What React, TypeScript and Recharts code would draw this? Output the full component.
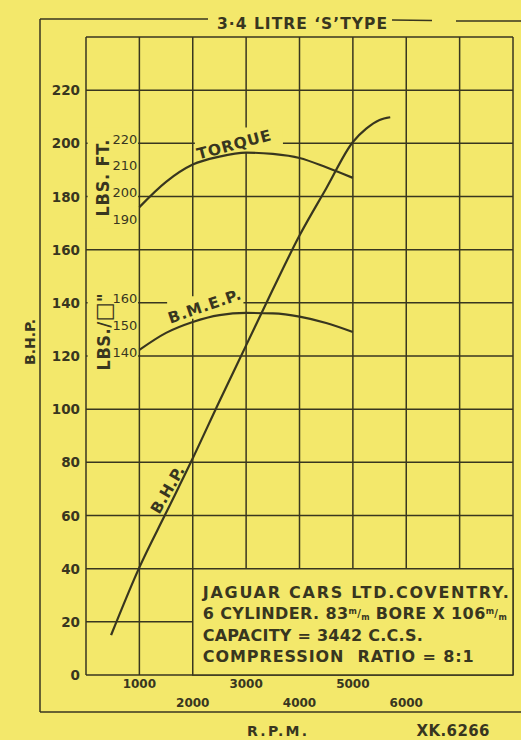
import React from 'react';
import {
  LineChart,
  Line,
  XAxis,
  YAxis,
  CartesianGrid,
  ReferenceArea,
  ReferenceDot,
} from 'recharts';

const PAPER = '#f3e86b';
const INK = '#38361f';
const FONT = '"DejaVu Sans", sans-serif';
const COND = '"DejaVu Sans Condensed", "DejaVu Sans", sans-serif';

// B.H.P. against r.p.m.
const bhpRpm = [470, 1000, 1500, 2000, 2500, 3000, 3500, 4000, 4500, 5000, 5250, 5500, 5700];
const bhpValues = [15, 40.5, 61, 81.5, 103, 124, 145, 165.3, 183, 200.5, 205.5, 208.8, 209.8];

// torque (lbs.ft.) and b.m.e.p. (lbs./sq.in.) share the same rpm points
const curveRpm = [1000, 1500, 2000, 2500, 3000, 3500, 4000, 4500, 5000];
const torqueValues = [196, 205.5, 212, 215, 216.5, 216, 214.5, 211, 207];
const bmepValues = [142.3, 148.7, 152.8, 155.4, 156.2, 156, 154.8, 152.4, 149];

const rpmTicks = [0, 1000, 2000, 3000, 4000, 5000, 6000, 7000, 8000];
const rpmLabels = [1000, 2000, 3000, 4000, 5000, 6000];
const bhpTicks = [0, 20, 40, 60, 80, 100, 120, 140, 160, 180, 200, 220, 240];
const bhpLabels = [0, 20, 40, 60, 80, 100, 120, 140, 160, 180, 200, 220];
const torqueTicks = [190, 200, 210, 220];
const bmepTicks = [140, 150, 160];

const pick = (xs: number[], ys: number[], x: number) => {
  const i = xs.indexOf(x);
  return i < 0 ? null : ys[i];
};

const rows = Array.from(new Set([...bhpRpm, ...curveRpm]))
  .sort((a, b) => a - b)
  .map((rpm) => ({
    rpm,
    bhp: pick(bhpRpm, bhpValues, rpm),
    torque: pick(curveRpm, torqueValues, rpm),
    bmep: pick(curveRpm, bmepValues, rpm),
  }));

const RpmTick = ({ x, y, payload }: any) => {
  const v = payload.value;
  if (!rpmLabels.includes(v)) return <g />;
  const low = (v / 1000) % 2 === 0;
  return (
    <text x={x} y={y + (low ? 24 : 5)} textAnchor="middle" fontFamily={FONT}
      fontWeight="bold" fontSize={12} fill={INK}>
      {v}
    </text>
  );
};

const BhpTick = ({ x, y, payload }: any) => {
  const v = payload.value;
  if (!bhpLabels.includes(v)) return <g />;
  return (
    <text x={x} y={y + 5} textAnchor="end" fontFamily={FONT}
      fontWeight="bold" fontSize={13.5} fill={INK}>
      {v}
    </text>
  );
};

// secondary scale numbers written just left of the 1000 rpm line
const scaleLabel = (v: number) => (p: any) => (
  <text x={p.cx - 2} y={p.cy + 0.5} textAnchor="end" fontFamily={FONT}
    fontSize={13} fill={INK}>
    {v}
  </text>
);

const curveName = (name: string, angle: number, len: number) => (p: any) => (
  <text x={p.cx} y={p.cy} textAnchor="middle" dominantBaseline="central"
    transform={`rotate(${angle} ${p.cx} ${p.cy})`} fontFamily={FONT}
    fontWeight="bold" fontSize={15.5} fill={INK} textLength={len}>
    {name}
  </text>
);

const mm = (
  <>
    <tspan fontSize={8} dy={-5}>m</tspan>
    <tspan fontSize={10} dy={3}>/</tspan>
    <tspan fontSize={8} dy={3}>m</tspan>
    <tspan dy={-1}> </tspan>
  </>
);

const SpecBlock = (p: any) => {
  const x = p.cx + 10;
  const common = { x, fontFamily: FONT, fontWeight: 'bold', fontSize: 16, fill: INK };
  return (
    <g>
      <text {...common} y={p.cy + 29} textLength={306}>JAGUAR CARS LTD.COVENTRY.</text>
      <text {...common} y={p.cy + 50} textLength={304}>
        6 CYLINDER. 83{mm}BORE X 106{mm}
      </text>
      <text {...common} y={p.cy + 72} textLength={220}>CAPACITY = 3442 C.C.S.</text>
      <text {...common} y={p.cy + 93} textLength={271}>{'COMPRESSION\u00a0\u00a0RATIO = 8:1'}</text>
    </g>
  );
};

export default function App() {
  return (
    <div style={{ position: 'absolute', left: 0, top: 0, width: 521, height: 740, background: PAPER }}>
      <LineChart width={521} height={740} data={rows}
        margin={{ top: 37, right: 8, bottom: 35, left: 46 }}>
        <CartesianGrid stroke={INK} strokeWidth={1.5} />
        <XAxis dataKey="rpm" type="number" domain={[0, 8000]} ticks={rpmTicks}
          interval={0} tick={<RpmTick />} axisLine={false} tickLine={false} height={30} />
        <YAxis type="number" domain={[0, 240]} ticks={bhpTicks} interval={0}
          tick={<BhpTick />} axisLine={false} tickLine={false} width={40}
          tickSize={4} tickMargin={2} />
        <YAxis yAxisId="torque" type="number" domain={[20, 260]} allowDataOverflow hide />
        <YAxis yAxisId="bmep" type="number" domain={[20, 260]} allowDataOverflow hide />

        {/* gaps in the grid behind the lettering */}
        <ReferenceArea x1={30} x2={975} y1={168} y2={206} fill={PAPER} fillOpacity={1} stroke="none" />
        <ReferenceArea x1={30} x2={975} y1={112} y2={146} fill={PAPER} fillOpacity={1} stroke="none" />
        <ReferenceArea x1={2040} x2={3690} y1={196.5} y2={206} fill={PAPER} fillOpacity={1} stroke="none" />
        <ReferenceArea x1={1520} x2={2950} y1={134} y2={142.5} fill={PAPER} fillOpacity={1} stroke="none" />
        <ReferenceArea x1={2000} x2={8000} y1={0} y2={40} fill={PAPER} fillOpacity={1}
          stroke={INK} strokeWidth={1.5} />

        <Line dataKey="bhp" type="monotone" stroke={INK} strokeWidth={2.2} dot={false}
          connectNulls isAnimationActive={false} />
        <Line yAxisId="torque" dataKey="torque" type="monotone" stroke={INK} strokeWidth={2.2}
          dot={false} connectNulls isAnimationActive={false} />
        <Line yAxisId="bmep" dataKey="bmep" type="monotone" stroke={INK} strokeWidth={2.2}
          dot={false} connectNulls isAnimationActive={false} />

        {torqueTicks.map((t) => (
          <ReferenceDot key={`t${t}`} yAxisId="torque" x={1000} y={t} r={0} shape={scaleLabel(t)} />
        ))}
        {bmepTicks.map((t) => (
          <ReferenceDot key={`b${t}`} yAxisId="bmep" x={1000} y={t} r={0} shape={scaleLabel(t)} />
        ))}

        <ReferenceDot x={2773} y={199.4} r={0} shape={curveName('TORQUE', -15, 76)} />
        <ReferenceDot x={2220} y={138.6} r={0} shape={curveName('B.M.E.P.', -19, 76)} />
        <ReferenceDot x={1536} y={69.6} r={0} shape={curveName('B.H.P.', -60, 52)} />
        <ReferenceDot x={2000} y={40} r={0} shape={SpecBlock} />
      </LineChart>

      <svg width={521} height={740}
        style={{ position: 'absolute', left: 0, top: 0, pointerEvents: 'none' }}>
        <g stroke={INK} strokeWidth={1.5}>
          <line x1={40} y1={19} x2={40} y2={712} />
          <line x1={40} y1={19} x2={208} y2={19} />
          <line x1={392} y1={20} x2={432} y2={20.5} />
          <line x1={456} y1={21} x2={521} y2={21} />
          <line x1={40} y1={712} x2={521} y2={712} />
        </g>
        <text x={302} y={29} textAnchor="middle" fontFamily={FONT} fontWeight="bold"
          fontSize={15.5} fill={INK} textLength={170}>
          3·4 LITRE ‘S’TYPE
        </text>
        <text x={30} y={342} textAnchor="middle" dominantBaseline="central"
          transform="rotate(-90 30 342)" fontFamily={FONT} fontWeight="bold"
          fontSize={14} fill={INK} textLength={46}>
          B.H.P.
        </text>
        <text x={102} y={178} textAnchor="middle" dominantBaseline="central"
          transform="rotate(-90 102 178)" fontFamily={COND} fontWeight="bold"
          fontSize={18} fill={INK} textLength={77}>
          LBS. FT.
        </text>
        <text x={103} y={332} textAnchor="middle" dominantBaseline="central"
          transform="rotate(-90 103 332)" fontFamily={COND} fontWeight="bold"
          fontSize={18} fill={INK} textLength={77}>
          LBS./<tspan fontSize={22}>□</tspan>"
        </text>
        <text x={277} y={736} textAnchor="middle" fontFamily={FONT} fontWeight="bold"
          fontSize={14} fill={INK} textLength={60}>
          R.P.M.
        </text>
        <text x={453} y={736} textAnchor="middle" fontFamily={FONT} fontWeight="bold"
          fontSize={15} fill={INK} textLength={73}>
          XK.6266
        </text>
      </svg>
    </div>
  );
}
